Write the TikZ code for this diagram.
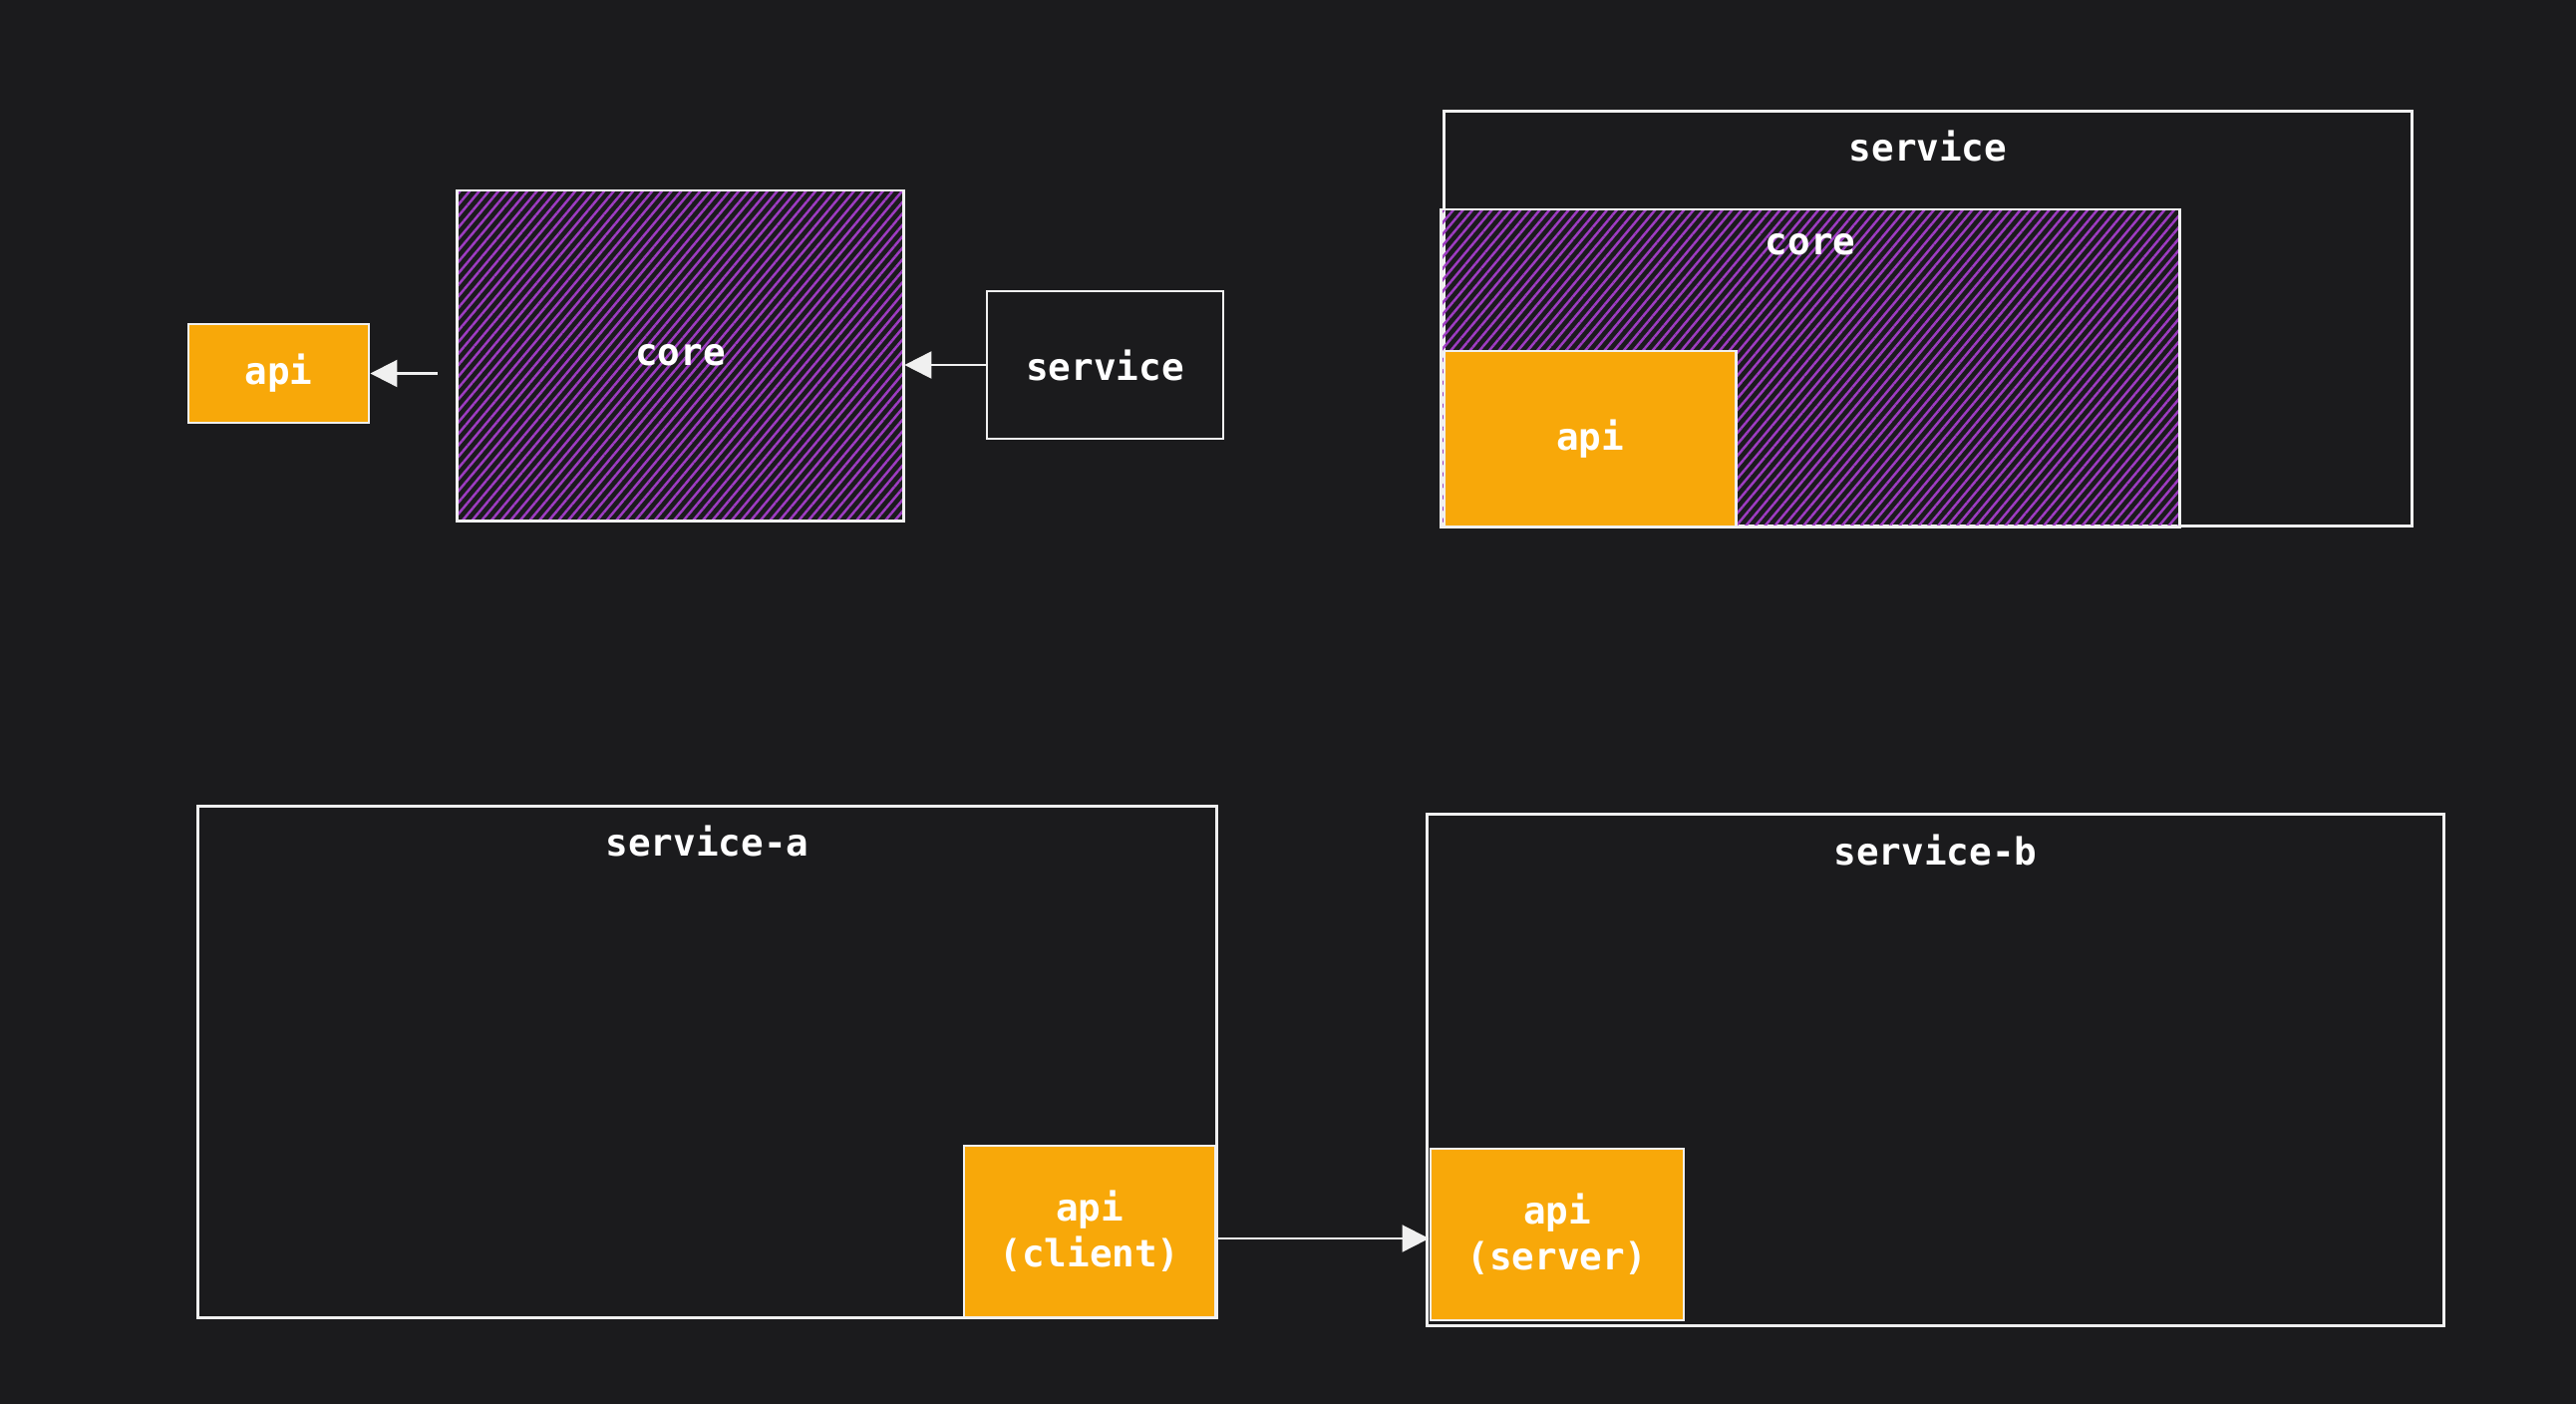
\documentclass[tikz,border=0pt]{standalone}
\usepackage{fontspec}
\setmonofont{DejaVu Sans Mono}
\usetikzlibrary{arrows.meta,patterns.meta,positioning}
\definecolor{bgdark}{HTML}{1B1B1D}
\definecolor{apiorange}{HTML}{F8A809}
\definecolor{corepurple}{HTML}{9E3CC2}
\definecolor{sketch}{HTML}{F0F0F0}

\begin{document}
\begin{tikzpicture}[x=0.01cm,y=-0.01cm,
    every node/.style={font=\ttfamily\bfseries\fontsize{10.7}{13.1}\selectfont,text=white,align=center},
    box/.style={draw=sketch,line width=0.8pt,inner sep=0pt},
    apibox/.style={box,fill=apiorange},
    corebox/.style={box,pattern={Lines[angle=50,distance=2.1pt,line width=0.7pt]},pattern color=corepurple},
    flow/.style={draw=sketch,line width=0.6pt,-{Triangle[length=0.27cm,width=0.27cm]}}]
  \fill[bgdark] (0,0) rectangle (2584,1408);
  \useasboundingbox (0,0) rectangle (2584,1408);

  % top left
  \node[apibox, minimum width=1.81cm, minimum height=0.99cm] (api1) at (279.5,374.5) {api};
  \node[corebox, minimum width=4.47cm, minimum height=3.31cm] (core1) at (682.5,356.5) {core};
  \node[box, minimum width=2.37cm, minimum height=1.48cm] (svc1) at (1108.5,366) {service};

  \draw[flow, shorten <=0.19cm] (core1.west |- api1.east) -- (api1.east);
  \draw[flow] (svc1.west) -- (core1.east |- svc1.west);

  % top right
  \node[box, minimum width=9.70cm, minimum height=4.15cm] (svc2) at (1934,319.5) {};
  \node (svc2label) at ([yshift=-0.36cm]svc2.north) {service};
  \node[corebox, minimum width=7.40cm, minimum height=3.18cm] (core2) at (1816,369) {};
  \node (core2label) at ([yshift=-0.37cm]core2.north) {core};
  \node[apibox, minimum width=2.92cm, minimum height=1.76cm] (api2) at (1595,440) {api};

  % bottom
  \node[box, minimum width=10.21cm, minimum height=5.12cm] (svca) at (709.5,1065) {};
  \node (svcalabel) at ([yshift=-0.36cm]svca.north) {service-a};
  \node[box, minimum width=10.19cm, minimum height=5.12cm] (svcb) at (1941.5,1073) {};
  \node (svcblabel) at ([yshift=-0.37cm]svcb.north) {service-b};

  \node[apibox, minimum width=2.52cm, minimum height=1.72cm] (apic) at (1093,1235) {api\\(client)};
  \node[apibox, minimum width=2.54cm, minimum height=1.72cm] (apis) at (1562,1238) {api\\(server)};

  \draw[flow] (apic.east |- 0,1242) -- (apis.west |- 0,1242);
\end{tikzpicture}
\end{document}
